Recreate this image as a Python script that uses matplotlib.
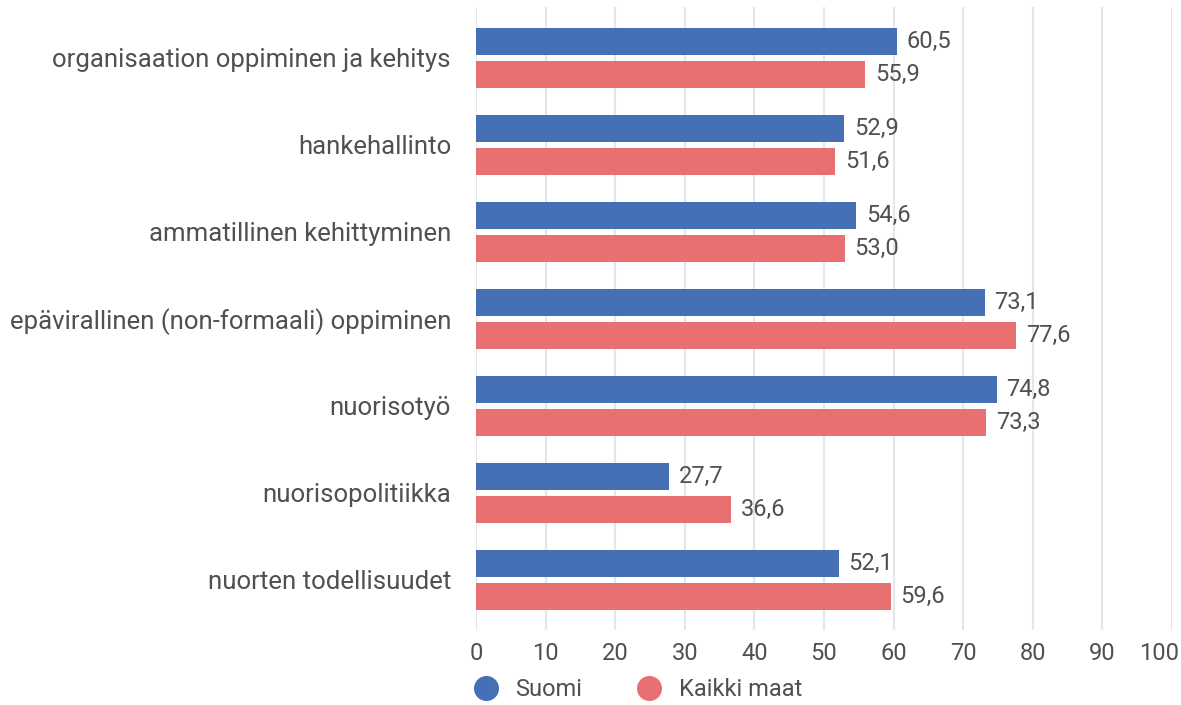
import matplotlib
matplotlib.use("Agg")
import matplotlib.pyplot as plt
import numpy as np
from matplotlib.lines import Line2D
import matplotlib.transforms as mtransforms

categories = [
    "organisaation oppiminen ja kehitys",
    "hankehallinto",
    "ammatillinen kehittyminen",
    "epävirallinen (non-formaali) oppiminen",
    "nuorisotyö",
    "nuorisopolitiikka",
    "nuorten todellisuudet",
]
suomi = [60.5, 52.9, 54.6, 73.1, 74.8, 27.7, 52.1]
kaikki = [55.9, 51.6, 53.0, 77.6, 73.3, 36.6, 59.6]
series_names = ["Suomi", "Kaikki maat"]
xticks = list(range(0, 101, 10))

plt.rcParams["font.family"] = ["Roboto", "DejaVu Sans"]
blue = "#4570b6"
red = "#e87070"
txt = "#505050"

W, H = 1181, 705
fig = plt.figure(figsize=(W / 100, H / 100), dpi=100)
top, bottom = 7, 630
ax = fig.add_axes([476 / W, 1 - bottom / H, (1172 - 476) / W, (bottom - top) / H])

y = np.arange(len(categories))
h = 0.31
gap = 0.06
b1 = ax.barh(y - h / 2 - gap / 2, suomi, height=h, color=blue, zorder=3)
b2 = ax.barh(y + h / 2 + gap / 2, kaikki, height=h, color=red, zorder=3)

for bars, vals in ((b1, suomi), (b2, kaikki)):
    for bar, v in zip(bars, vals):
        ax.annotate(f"{v:.1f}".replace(".", ","),
                    (bar.get_width(), bar.get_y() + bar.get_height() / 2),
                    xytext=(7, 0), textcoords="offset points",
                    va="center", ha="left", fontsize=17, color=txt)

ax.set_xlim(0, 100)
ax.set_ylim(6.575, -0.586)
ax.set_xticks(xticks)
ax.set_xticklabels([str(t) for t in xticks])
ax.set_yticks(y)
ax.set_yticklabels(categories)
ax.tick_params(axis="y", length=0, pad=18, labelsize=18.5, labelcolor=txt)
ax.tick_params(axis="x", length=0, pad=9, labelsize=17, labelcolor=txt)
ax.grid(axis="x", color="#e3e6eb", linewidth=1.5, zorder=0)
for s in ax.spines.values():
    s.set_visible(False)

# nudge the last tick label so it stays inside the figure, as in the reference
last = ax.get_xticklabels()[-1]
last.set_transform(last.get_transform() + mtransforms.ScaledTranslation(-9 / 72, 0, fig.dpi_scale_trans))

handles = [Line2D([], [], marker="o", linestyle="", markersize=17, color=blue),
           Line2D([], [], marker="o", linestyle="", markersize=17, color=red)]
leg = fig.legend(handles, series_names, loc="center left",
                 bbox_to_anchor=(462 / W, 1 - 690 / H), ncol=2, frameon=False,
                 fontsize=17, handletextpad=0.25, columnspacing=1.85, borderaxespad=0,
                 borderpad=0)
for t in leg.get_texts():
    t.set_color(txt)

fig.savefig("out.png", dpi=100)
